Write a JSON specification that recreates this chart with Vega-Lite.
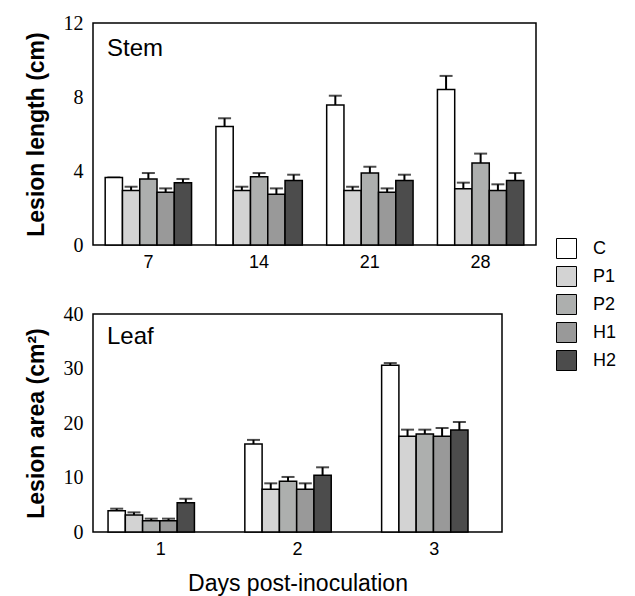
{
  "$schema": "https://vega.github.io/schema/vega-lite/v6.json",
  "padding": {"left": 24, "top": 12, "right": 5, "bottom": 5},
  "background": "white",
  "config": {
    "view": {"stroke": "black", "strokeWidth": 1.5},
    "axis": {"grid": false, "ticks": false, "domain": false},
    "axisX": {"labelFont": "Liberation Sans", "labelFontSize": 18, "labelColor": "black", "labelAngle": 0, "labelPadding": 8},
    "axisY": {"labelFont": "Liberation Serif", "labelFontSize": 20, "labelColor": "black", "labelPadding": 10, "titleFont": "Liberation Sans", "titleFontSize": 23, "titleFontWeight": "bold", "titleColor": "black", "titlePadding": 15},
    "title": {"font": "Liberation Sans", "fontSize": 24, "fontWeight": "normal", "color": "black", "anchor": "start", "frame": "group", "dx": 14},
    "legend": {"orient": "none", "legendX": 463, "legendY": 215, "symbolType": "square", "symbolSize": 400, "symbolStrokeColor": "black", "symbolStrokeWidth": 1, "labelFont": "Liberation Sans", "labelFontSize": 18, "labelColor": "black", "labelOffset": 16, "rowPadding": 3, "title": null}
  },
  "datasets": {
    "stem": [
      {"day": "7", "group": "C", "value": 3.65, "upper": 3.65},
      {"day": "7", "group": "P1", "value": 2.94, "upper": 3.15},
      {"day": "7", "group": "P2", "value": 3.57, "upper": 3.89},
      {"day": "7", "group": "H1", "value": 2.85, "upper": 3.06},
      {"day": "7", "group": "H2", "value": 3.37, "upper": 3.57},
      {"day": "14", "group": "C", "value": 6.41, "upper": 6.85},
      {"day": "14", "group": "P1", "value": 2.94, "upper": 3.15},
      {"day": "14", "group": "P2", "value": 3.69, "upper": 3.89},
      {"day": "14", "group": "H1", "value": 2.74, "upper": 3.06},
      {"day": "14", "group": "H2", "value": 3.48, "upper": 3.8},
      {"day": "21", "group": "C", "value": 7.57, "upper": 8.07},
      {"day": "21", "group": "P1", "value": 2.94, "upper": 3.15},
      {"day": "21", "group": "P2", "value": 3.89, "upper": 4.23},
      {"day": "21", "group": "H1", "value": 2.85, "upper": 3.06},
      {"day": "21", "group": "H2", "value": 3.48, "upper": 3.8},
      {"day": "28", "group": "C", "value": 8.41, "upper": 9.14},
      {"day": "28", "group": "P1", "value": 3.04, "upper": 3.37},
      {"day": "28", "group": "P2", "value": 4.43, "upper": 4.94},
      {"day": "28", "group": "H1", "value": 2.94, "upper": 3.28},
      {"day": "28", "group": "H2", "value": 3.48, "upper": 3.89}
    ],
    "leaf": [
      {"day": "1", "group": "C", "value": 3.91, "upper": 4.28},
      {"day": "1", "group": "P1", "value": 3.12, "upper": 3.6},
      {"day": "1", "group": "P2", "value": 2.08, "upper": 2.45},
      {"day": "1", "group": "H1", "value": 2.08, "upper": 2.45},
      {"day": "1", "group": "H2", "value": 5.38, "upper": 6.1},
      {"day": "2", "group": "C", "value": 16.15, "upper": 16.9},
      {"day": "2", "group": "P1", "value": 7.83, "upper": 8.93},
      {"day": "2", "group": "P2", "value": 9.3, "upper": 10.1},
      {"day": "2", "group": "H1", "value": 7.83, "upper": 8.93},
      {"day": "2", "group": "H2", "value": 10.4, "upper": 11.87},
      {"day": "3", "group": "C", "value": 30.58, "upper": 31.0},
      {"day": "3", "group": "P1", "value": 17.55, "upper": 18.78},
      {"day": "3", "group": "P2", "value": 17.98, "upper": 18.78},
      {"day": "3", "group": "H1", "value": 17.55, "upper": 19.08},
      {"day": "3", "group": "H2", "value": 18.72, "upper": 20.18}
    ]
  },
  "vconcat": [
    {
      "width": 443,
      "height": 222,
      "title": {"text": "Stem", "offset": -48},
      "data": {"name": "stem"},
      "encoding": {
        "x": {"field": "day", "type": "ordinal", "sort": ["7", "14", "21", "28"], "scale": {"paddingInner": 0.22, "paddingOuter": 0.11}, "axis": {"title": null}},
        "xOffset": {"field": "group", "type": "nominal", "sort": ["C", "P1", "P2", "H1", "H2"], "scale": {"paddingInner": 0, "paddingOuter": 0}}
      },
      "layer": [
        {
          "mark": {"type": "rule", "color": "black", "strokeWidth": 2},
          "encoding": {"y": {"field": "value", "type": "quantitative"}, "y2": {"field": "upper"}}
        },
        {
          "mark": {"type": "tick", "color": "black", "thickness": 2, "size": 13},
          "encoding": {"y": {"field": "upper", "type": "quantitative"}}
        },
        {
          "mark": {"type": "bar", "stroke": "black", "strokeWidth": 1.5},
          "encoding": {
            "y": {"field": "value", "type": "quantitative", "scale": {"domain": [0, 12], "nice": false}, "axis": {"values": [0, 4, 8, 12], "title": "Lesion length (cm)"}},
            "color": {"field": "group", "type": "nominal", "sort": ["C", "P1", "P2", "H1", "H2"], "scale": {"domain": ["C", "P1", "P2", "H1", "H2"], "range": ["#ffffff", "#d3d3d3", "#adafae", "#999999", "#4c4c4c"]}}
          }
        }
      ]
    },
    {
      "width": 409,
      "height": 218,
      "title": {"text": "Leaf", "offset": -45},
      "data": {"name": "leaf"},
      "encoding": {
        "x": {"field": "day", "type": "ordinal", "sort": ["1", "2", "3"], "scale": {"paddingInner": 0.23, "paddingOuter": 0.11}, "axis": {"title": "Days post-inoculation", "titleFont": "Liberation Sans", "titleFontSize": 23, "titleFontWeight": "normal", "titleColor": "black", "titlePadding": 14}},
        "xOffset": {"field": "group", "type": "nominal", "sort": ["C", "P1", "P2", "H1", "H2"], "scale": {"paddingInner": 0, "paddingOuter": 0}}
      },
      "layer": [
        {
          "mark": {"type": "rule", "color": "black", "strokeWidth": 2},
          "encoding": {"y": {"field": "value", "type": "quantitative"}, "y2": {"field": "upper"}}
        },
        {
          "mark": {"type": "tick", "color": "black", "thickness": 2, "size": 13},
          "encoding": {"y": {"field": "upper", "type": "quantitative"}}
        },
        {
          "mark": {"type": "bar", "stroke": "black", "strokeWidth": 1.5},
          "encoding": {
            "y": {"field": "value", "type": "quantitative", "scale": {"domain": [0, 40], "nice": false}, "axis": {"values": [0, 10, 20, 30, 40], "title": "Lesion area (cm²)"}},
            "color": {"field": "group", "type": "nominal", "sort": ["C", "P1", "P2", "H1", "H2"], "scale": {"domain": ["C", "P1", "P2", "H1", "H2"], "range": ["#ffffff", "#d3d3d3", "#adafae", "#999999", "#4c4c4c"]}}
          }
        }
      ]
    }
  ],
  "spacing": 31,
  "resolve": {"scale": {"color": "shared"}}
}
